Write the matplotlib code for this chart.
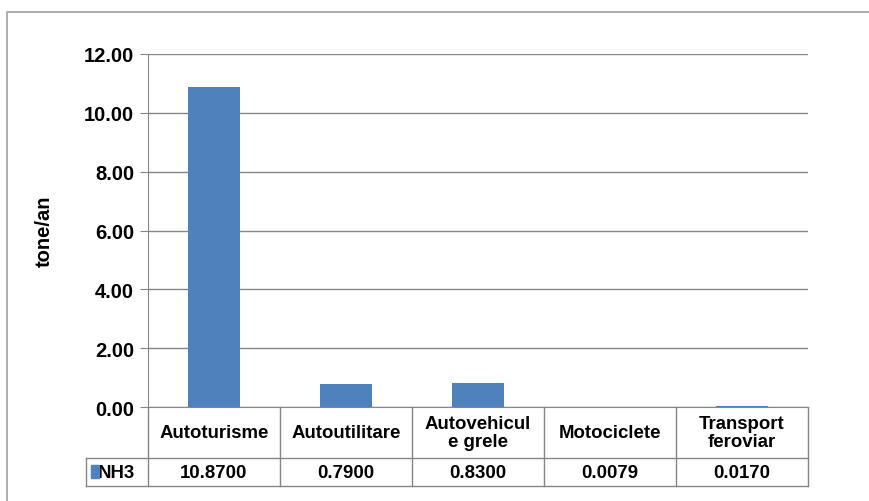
import matplotlib.pyplot as plt
import matplotlib.transforms as mtransforms
from matplotlib.patches import Rectangle

# NH3 emissions by transport category (tone/an)
categories = ["Autoturisme", "Autoutilitare", "Autovehicul\ne grele", "Motociclete", "Transport\nferoviar"]
nh3 = [10.87, 0.79, 0.83, 0.0079, 0.017]
nh3_labels = ["10.8700", "0.7900", "0.8300", "0.0079", "0.0170"]
series_name = "NH3"
yticks = [0, 2, 4, 6, 8, 10, 12]

plt.rcParams["font.family"] = ["Liberation Sans", "DejaVu Sans"]
plt.rcParams["font.weight"] = "bold"

W, H = 869, 502
fig = plt.figure(figsize=(W / 100, H / 100), dpi=100)

# plot area in pixels: x 148..808, y 55..408
x0, x1, ytop, ybot = 148, 808, 55, 408
ax = fig.add_axes([x0 / W, 1 - ybot / H, (x1 - x0) / W, (ybot - ytop) / H])

grid_col = "#868686"
bar_col = "#4F81BD"

xs = list(range(len(categories)))
ax.bar(xs, nh3, width=0.4, color=bar_col, zorder=3)
ax.set_xlim(-0.5, len(categories) - 0.5)
ax.set_ylim(0, 12)
ax.set_yticks(yticks)
ax.set_yticklabels(["%.2f" % v for v in yticks], fontsize=14.5, fontweight="bold")
ax.yaxis.grid(True, color=grid_col, lw=1, zorder=0)
ax.set_xticks([])
ax.tick_params(axis="y", length=6, color=grid_col, pad=4)

for s in ["top", "right"]:
    ax.spines[s].set_visible(False)
ax.spines["left"].set_color(grid_col)
ax.spines["bottom"].set_color(grid_col)

ax.set_ylabel("tone/an", fontsize=14.5, fontweight="bold", labelpad=22)

# data table under the axis (x in data units, y in axes fraction)
trans = mtransforms.blended_transform_factory(ax.transData, ax.transAxes)
ph = ybot - ytop
y_r1 = -(459 - ybot) / ph
y_r2 = -(487 - ybot) / ph
xl = -0.5 - (x0 - 86) / ((x1 - x0) / len(categories))
xr = len(categories) - 0.5

line_kw = dict(color=grid_col, lw=1, transform=trans, clip_on=False)
for i in range(len(categories) + 1):
    ax.plot([i - 0.5, i - 0.5], [0, y_r2], **line_kw)
ax.plot([xl, xl], [y_r1, y_r2], **line_kw)
ax.plot([xl, xr], [y_r1, y_r1], **line_kw)
ax.plot([xl, xr], [y_r2, y_r2], **line_kw)

for i, (cat, lab) in enumerate(zip(categories, nh3_labels)):
    ax.text(i, y_r1 / 2, cat, transform=trans, ha="center", va="center",
            fontsize=13.4, fontweight="bold", linespacing=1.1)
    ax.text(i, (y_r1 + y_r2) / 2, lab, transform=trans, ha="center",
            va="center", fontsize=13.4, fontweight="bold")

ax.text(-0.5 - 0.1, (y_r1 + y_r2) / 2, series_name, transform=trans,
        ha="right", va="center", fontsize=13.4, fontweight="bold")
ax.add_patch(Rectangle((xl + 0.04, y_r1 + (y_r2 - y_r1) * 0.25), 0.055,
                       (y_r2 - y_r1) * 0.45, transform=trans, color=bar_col,
                       clip_on=False, zorder=5))

# outer chart border
fig.patches.append(Rectangle((7 / W, -0.1), 1.2, 1 - 13 / H + 0.1,
                             transform=fig.transFigure, fill=False,
                             edgecolor="#A0A0A0", lw=1.2))

plt.savefig("out.png", dpi=100)
